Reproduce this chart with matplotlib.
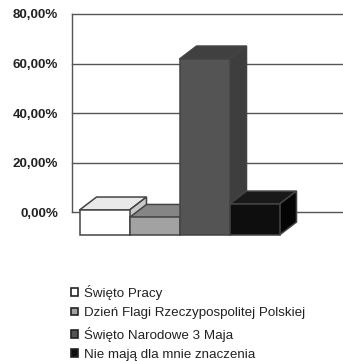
import matplotlib

matplotlib.use('Agg')
import matplotlib.pyplot as plt
from matplotlib.patches import Patch, Polygon

plt.rcParams['font.family'] = ['Liberation Sans', 'DejaVu Sans']

labels = ['Święto Pracy', 'Dzień Flagi Rzeczypospolitej Polskiej',
          'Święto Narodowe 3 Maja', 'Nie mają dla mnie znaczenia']
values = [10.1, 7.1, 71.1, 12.5]
y_ticks = [0, 20, 40, 60, 80]
y_tick_labels = ['0,00%', '20,00%', '40,00%', '60,00%', '80,00%']

front_colors = ['#ffffff', '#a2a2a2', '#545454', '#0e0e0e']
top_colors = ['#e9e9e9', '#858585', '#404040', '#191919']
side_colors = ['#c9c9c9', '#787878', '#3e3e3e', '#040404']
edge = '#444444'

W, H = 343, 361
fig = plt.figure(figsize=(W / 100, H / 100), dpi=100)
ax = fig.add_axes([72 / W, 1 - 212 / H, 271 / W, 198 / H])
ax.set_xlim(0, 5.42)
ax.set_ylim(0, 80)

# front plane of the pseudo-3D bars sits below and left of the back wall
base = -9.3
depth_x, depth_y = 0.34, 5.25
bar_x = [0.15 + i for i in range(len(values))]

for s in ['top', 'right', 'bottom']:
    ax.spines[s].set_visible(False)
ax.spines['left'].set_color('#555555')
ax.spines['left'].set_linewidth(1.0)
ax.set_xticks([])
ax.set_yticks(y_ticks)
ax.set_yticklabels(y_tick_labels, fontsize=9.6, fontweight='bold', color='#222222')
ax.tick_params(axis='y', length=0, pad=10)
ax.grid(axis='y', color='#555555', linewidth=1.0, zorder=0)
ax.set_axisbelow(True)
for t in ax.yaxis.get_gridlines():
    t.set_clip_on(False)

for i, v in enumerate(values):
    x0, x1 = bar_x[i], bar_x[i] + 1
    y1 = base + v
    z = 3 + i
    ax.add_patch(Polygon([(x0, y1), (x1, y1), (x1 + depth_x, y1 + depth_y), (x0 + depth_x, y1 + depth_y)],
                         facecolor=top_colors[i], edgecolor=edge, linewidth=1.1, zorder=z, clip_on=False))
    ax.add_patch(Polygon([(x1, base), (x1, y1), (x1 + depth_x, y1 + depth_y), (x1 + depth_x, base + depth_y)],
                         facecolor=side_colors[i], edgecolor=edge, linewidth=1.1, zorder=z, clip_on=False))
    ax.bar(x0, v, width=1, bottom=base, align='edge', color=front_colors[i],
           edgecolor=edge, linewidth=1.1, zorder=z, clip_on=False)

handles = [Patch(facecolor=c, edgecolor='#222222', linewidth=1.2) for c in front_colors]
fig.legend(handles, labels, loc='upper left', bbox_to_anchor=(71 / W, 1 - 285 / H),
           frameon=False, fontsize=9.6, labelcolor='#222222', handlelength=0.5,
           handleheight=0.5, handletextpad=0.45, labelspacing=0.55,
           borderpad=0, borderaxespad=0)

fig.savefig('out.png', dpi=100)
plt.close(fig)
